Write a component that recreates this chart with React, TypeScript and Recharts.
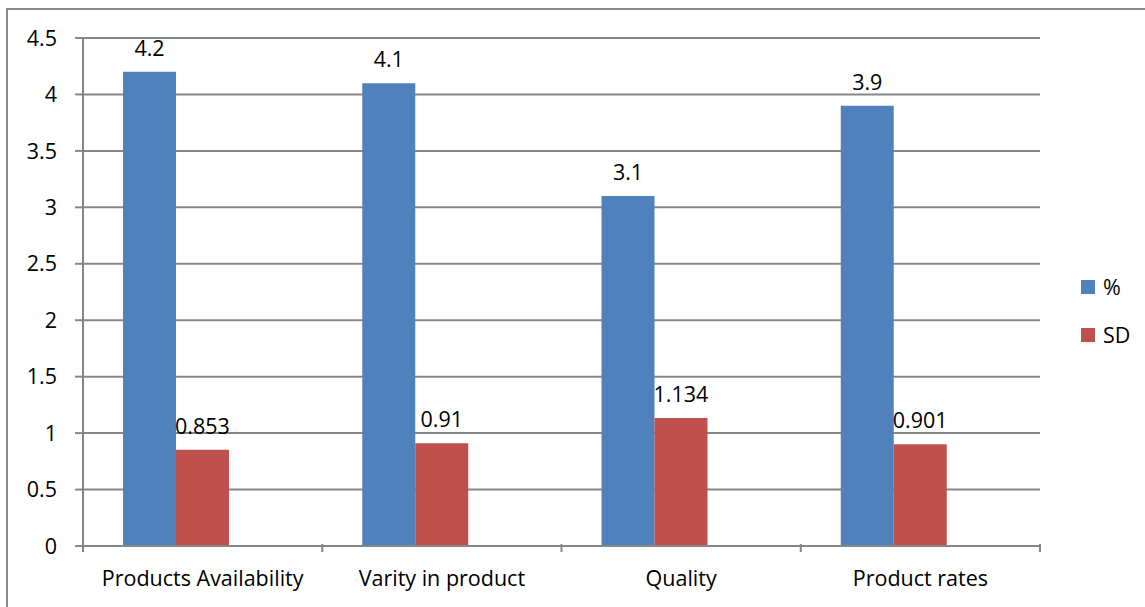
import React from "react"
import { BarChart, Bar, XAxis, YAxis, CartesianGrid, LabelList } from "recharts"

const categories = ["Products Availability", "Varity in product", "Quality", "Product rates"]
const pctValues = [4.2, 4.1, 3.1, 3.9]
const sdValues = [0.853, 0.91, 1.134, 0.901]
const yTicks = [0, 0.5, 1, 1.5, 2, 2.5, 3, 3.5, 4, 4.5]

const series = [
  { key: "pct", name: "%", color: "#4F81BD" },
  { key: "sd", name: "SD", color: "#C0504D" },
]

const data = categories.map((c, i) => ({ name: c, pct: pctValues[i], sd: sdValues[i] }))

const FONT = "'Open Sans', sans-serif"
const FS = 21.5
const AXIS = "#868686"
const W = 1145
const H = 607
const M = { top: 38, right: 105, left: 23, bottom: 21 }
const PLOT_W = W - M.left - 60 - M.right
const BAND = PLOT_W / categories.length
const TICK_MARGIN = 19

function CatTick(props: any) {
  const { x, y, payload, index } = props
  const y0 = y - TICK_MARGIN - 8
  return (
    <g>
      <line x1={x - BAND / 2} x2={x - BAND / 2} y1={y0} y2={y0 + 8} stroke={AXIS} strokeWidth={2} />
      {index === categories.length - 1 && (
        <line x1={x + BAND / 2} x2={x + BAND / 2} y1={y0} y2={y0 + 8} stroke={AXIS} strokeWidth={2} />
      )}
      <text x={x} y={y} dy="0.71em" textAnchor="middle" fill="#000" fontSize={FS} fontFamily={FONT}>
        {payload.value}
      </text>
    </g>
  )
}

export default function App() {
  return (
    <div style={{ position: "fixed", left: 0, top: 0, width: W, height: H, overflow: "hidden", background: "#fff" }}>
      <div
        style={{
          position: "absolute",
          left: 6,
          top: 8,
          width: 1300,
          height: 800,
          border: "2px solid #8a8a8a",
        }}
      />
      <div style={{ position: "absolute", left: 0, top: 0 }}>
        <BarChart width={W} height={H} data={data} margin={M} barCategoryGap={40} barGap={0}>
          <CartesianGrid vertical={false} stroke={AXIS} strokeWidth={2} />
          <XAxis
            dataKey="name"
            interval={0}
            tickLine={false}
            axisLine={{ stroke: AXIS, strokeWidth: 2 }}
            tick={<CatTick />}
            tickMargin={TICK_MARGIN}
            height={40}
          />
          <YAxis
            domain={[0, 4.5]}
            ticks={yTicks}
            width={60}
            tickSize={8}
            tickMargin={18}
            tickLine={{ stroke: AXIS, strokeWidth: 2 }}
            axisLine={{ stroke: AXIS, strokeWidth: 2 }}
            tick={{ fill: "#000", fontSize: FS, fontFamily: FONT }}
          />
          {series.map((s) => (
            <Bar key={s.key} dataKey={s.key} name={s.name} fill={s.color} isAnimationActive={false}>
              <LabelList dataKey={s.key} position="top" offset={16} fill="#000" fontSize={FS} fontFamily={FONT} />
            </Bar>
          ))}
          <Bar dataKey="spacer" legendType="none" isAnimationActive={false} />
        </BarChart>
      </div>
      {series.map((s, i) => (
        <div
          key={s.key}
          style={{
            position: "absolute",
            left: 1081,
            top: 272 + i * 48,
            display: "flex",
            alignItems: "center",
            fontFamily: FONT,
            fontSize: FS,
            color: "#000",
          }}
        >
          <span style={{ width: 14, height: 14, background: s.color, marginRight: 8, display: "inline-block" }} />
          {s.name}
        </div>
      ))}
    </div>
  )
}
